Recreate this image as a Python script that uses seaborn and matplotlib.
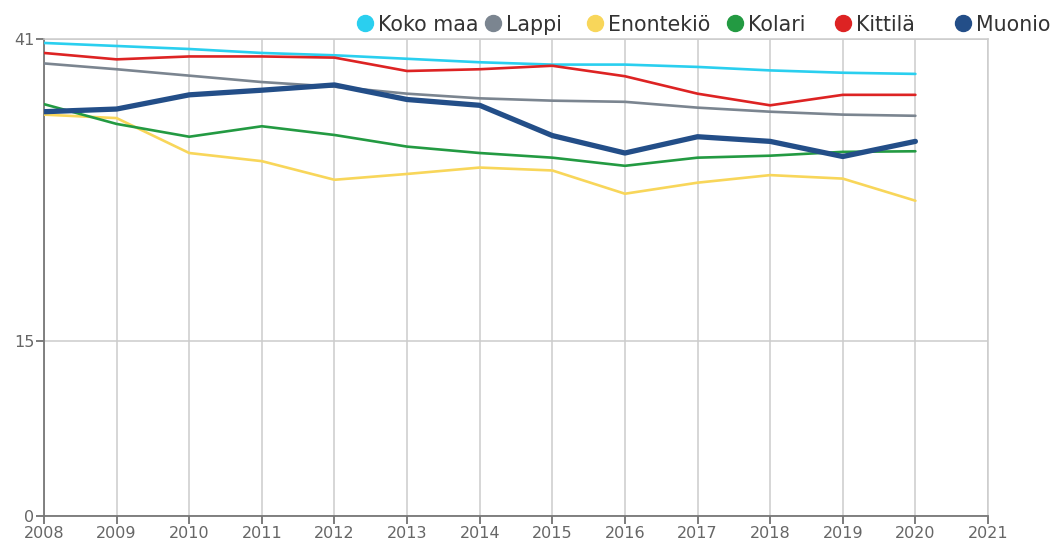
import matplotlib
matplotlib.use("Agg")
import matplotlib.pyplot as plt
import seaborn as sns
import pandas as pd
from matplotlib.lines import Line2D

years = list(range(2008, 2021))
koko_maa = [40.66, 40.4, 40.14, 39.8, 39.6, 39.3, 39.0, 38.8, 38.8, 38.6, 38.3, 38.1, 38.0]
lappi = [38.9, 38.4, 37.85, 37.3, 36.9, 36.3, 35.9, 35.7, 35.6, 35.1, 34.75, 34.5, 34.4]
enontekio = [34.5, 34.2, 31.2, 30.5, 28.9, 29.4, 29.95, 29.7, 27.7, 28.65, 29.3, 29.0, 27.1]
kolari = [35.4, 33.7, 32.6, 33.5, 32.75, 31.75, 31.2, 30.8, 30.1, 30.8, 30.97, 31.3, 31.35]
kittila = [39.8, 39.25, 39.5, 39.5, 39.4, 38.25, 38.4, 38.7, 37.8, 36.3, 35.3, 36.2, 36.2]
muonio = [34.75, 34.98, 36.2, 36.6, 37.05, 35.8, 35.3, 32.7, 31.2, 32.6, 32.2, 30.9, 32.2]

series_names = ["Koko maa", "Lappi", "Enontekiö", "Kolari", "Kittilä", "Muonio"]
series_values = [koko_maa, lappi, enontekio, kolari, kittila, muonio]
colors = ["#2ACFEF", "#7B8590", "#F8D65A", "#239A42", "#DD2323", "#234E88"]
widths = [1.9, 1.9, 1.9, 1.9, 1.9, 3.8]

yticks = [0, 15, 41]
xticks = list(range(2008, 2022))

rows = []
for name, vals in zip(series_names, series_values):
    for y, v in zip(years, vals):
        rows.append({"year": y, "value": v, "series": name})
df = pd.DataFrame(rows)

sns.set_theme(style="white")
plt.rcParams['font.family'] = ['DejaVu Sans']

W, H = 1052, 545
fig = plt.figure(figsize=(W / 100, H / 100), dpi=100)
ax = fig.add_axes([44/W, 1-516/H, (988-44)/W, (516-39)/H])

draw_order = ["Muonio", "Koko maa", "Lappi", "Enontekiö", "Kolari", "Kittilä"]
for name in draw_order:
    i = series_names.index(name)
    sub = df[df["series"] == name]
    sns.lineplot(data=sub, x="year", y="value", color=colors[i], linewidth=widths[i],
                 ax=ax, legend=False, zorder=3 + i)

ax.set_xlim(2008, 2021)
ax.set_ylim(0, 41)
ax.set_xticks(xticks)
ax.set_yticks(yticks)
ax.set_xlabel("")
ax.set_ylabel("")
ax.grid(True, color="#CCCCCC", linewidth=1.1)
ax.set_axisbelow(True)
ax.tick_params(axis="both", labelsize=11.5, labelcolor="#666666", color="#666666",
               length=6, width=1.2, direction="out", pad=1, left=True, bottom=True)
for side in ["left", "bottom"]:
    ax.spines[side].set_color("#777777")
    ax.spines[side].set_linewidth(1.3)
for side in ["top", "right"]:
    ax.spines[side].set_color("#CCCCCC")
    ax.spines[side].set_linewidth(1.1)

# legend entries (circle + label) placed across the top
legend_x = [365, 493, 595, 735, 843, 963]
legend_y = 1 - 23 / H
for name, c, lx in zip(series_names, colors, legend_x):
    fig.add_artist(Line2D([lx / W], [legend_y], marker="o", linestyle="", markersize=11.5,
                          markerfacecolor=c, markeredgecolor=c, transform=fig.transFigure))
    fig.text((lx + 13) / W, legend_y, name, fontsize=14.8, color="#333333",
             ha="left", va="center_baseline")

fig.savefig("out.png", dpi=100)
